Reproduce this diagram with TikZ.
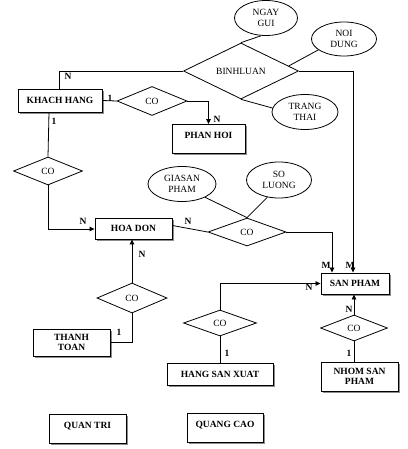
\documentclass[tikz,border=0pt]{standalone}
\usepackage{fontspec}
\setmainfont{Liberation Serif}
\usetikzlibrary{shapes.geometric,shadows,arrows.meta}
\begin{document}
\begin{tikzpicture}[x=1pt,y=-1pt,
  font=\fontsize{9.5}{11}\selectfont,
  ent/.style={draw, line width=0.9pt, fill=white, font=\fontsize{9.5}{10.5}\selectfont\bfseries, align=center, inner sep=0pt,
    drop shadow={shadow xshift=1.6pt, shadow yshift=-1.6pt, fill=black!45, opacity=1}},
  topbox/.style={ent, inner ysep=7pt, text height=7pt, text depth=8pt},
  rel/.style={draw, diamond, line width=0.8pt, inner sep=0pt, fill=white},
  attr/.style={draw, ellipse, line width=0.8pt, inner sep=0pt, align=center, font=\fontsize{9.5}{11}\selectfont},
  lnk/.style={line width=0.8pt},
  arr/.style={lnk, -{Triangle[length=5pt,width=4.5pt]}},
  card/.style={font=\fontsize{9.5}{11}\selectfont\bfseries, inner sep=0pt}]
\useasboundingbox (0,0) rectangle (407,449);

% attributes
\node[attr, minimum width=63pt, minimum height=35pt] (ng) at (266,18) {NGAY\\GUI};
\node[attr, minimum width=65pt, minimum height=34pt] (nd) at (344,39) {NOI\\DUNG};
\node[attr, minimum width=66pt, minimum height=35pt] (tt) at (305,112) {TRANG\\THAI};
\node[attr, minimum width=68pt, minimum height=35pt] (gp) at (182,184) {GIASAN\\PHAM};
\node[attr, minimum width=65pt, minimum height=36pt] (sl) at (279,180) {SO\\LUONG};

% relationships
\node[rel, minimum width=115pt, minimum height=42pt] (bl) at (241,71) {BINHLUAN};
\node[rel, minimum width=70pt, minimum height=29pt] (co1) at (152,101) {CO};
\node[rel, minimum width=69pt, minimum height=28pt] (co2) at (48,171) {CO};
\node[rel, minimum width=78pt, minimum height=28pt] (co3) at (247,232) {CO};
\node[rel, minimum width=70pt, minimum height=30pt] (co4) at (132,298) {CO};
\node[rel, minimum width=73pt, minimum height=26pt] (co5) at (220,323) {CO};
\node[rel, minimum width=67pt, minimum height=26pt] (co6) at (354,328) {CO};

% entities
\node[ent, minimum width=84pt, minimum height=23pt] (kh) at (60,100.5) {KHACH HANG};
\node[topbox, minimum width=73pt] (ph) at (208.5,139) {PHAN HOI};
\node[ent, minimum width=77pt, minimum height=21pt] (hd) at (133.5,228.5) {HOA DON};
\node[ent, minimum width=68pt, minimum height=21pt] (sp) at (355,283.5) {SAN PHAM};
\node[ent, minimum width=77pt, minimum height=27pt] (tto) at (71.5,342.5) {THANH\\TOAN};
\node[ent, minimum width=106pt, minimum height=22pt] (hsx) at (220,374) {HANG SAN XUAT};
\node[ent, minimum width=77pt, minimum height=29pt] (nsp) at (359.5,376.5) {NHOM SAN\\PHAM};
\node[topbox, minimum width=77pt] (qt) at (87.5,428.5) {QUAN TRI};
\node[topbox, minimum width=76pt] (qc) at (225,428) {QUANG CAO};

% attribute links
\draw[lnk] (ng.255) -- (bl.north);
\draw[lnk] (nd.203) -- (bl.6);
\draw[lnk] (bl.south) -- (tt.173);
\draw[lnk] (gp.330) -- (co3.north);
\draw[lnk] (sl.236) -- (co3.north);

% relationship links
\draw[lnk] (bl.west) -| ([xshift=-1pt]kh.north);
\draw[arr] (bl.east) -| ([xshift=-2pt]sp.north);
\draw[lnk] (kh.east) -- (co1.west);
\draw[arr] (co1.east) -| (ph.north);
\draw[lnk] ([xshift=-11pt]kh.south) -- (co2.north);
\draw[arr] (co2.south) |- ([yshift=-0.5pt]hd.west);
\draw[lnk] ([yshift=3pt]hd.east) -- (co3.west);
\draw[arr] (co3.east) -| ([xshift=-23pt]sp.north);
\draw[arr] (co4.north) -- ([xshift=-1.5pt]hd.south);
\draw[lnk] (co4.south) |- (tto.east);
\draw[arr] (co5.north) |- (sp.west);
\draw[lnk] (co5.south) -- (hsx.north);
\draw[arr] (co6.north) -- ([xshift=-1pt]sp.south);
\draw[lnk] (co6.south) -- ([xshift=-5.5pt]nsp.north);

% cardinalities
\node[card] (c1) at (68,76) {N};
\node[card] (c2) at (110,98) {1};
\node[card] (c3) at (217,119) {N};
\node[card] (c4) at (54,121) {1};
\node[card] (c5) at (83,221) {N};
\node[card] (c6) at (188,221) {N};
\node[card] (c7) at (142,254) {N};
\node[card] (c8) at (326,265) {M};
\node[card] (c9) at (350,265) {M};
\node[card] (c10) at (309,287) {N};
\node[card] (c11) at (119,332) {1};
\node[card] (c12) at (227,353) {1};
\node[card] (c13) at (349,309) {N};
\node[card] (c14) at (349,353) {1};
\end{tikzpicture}
\end{document}
